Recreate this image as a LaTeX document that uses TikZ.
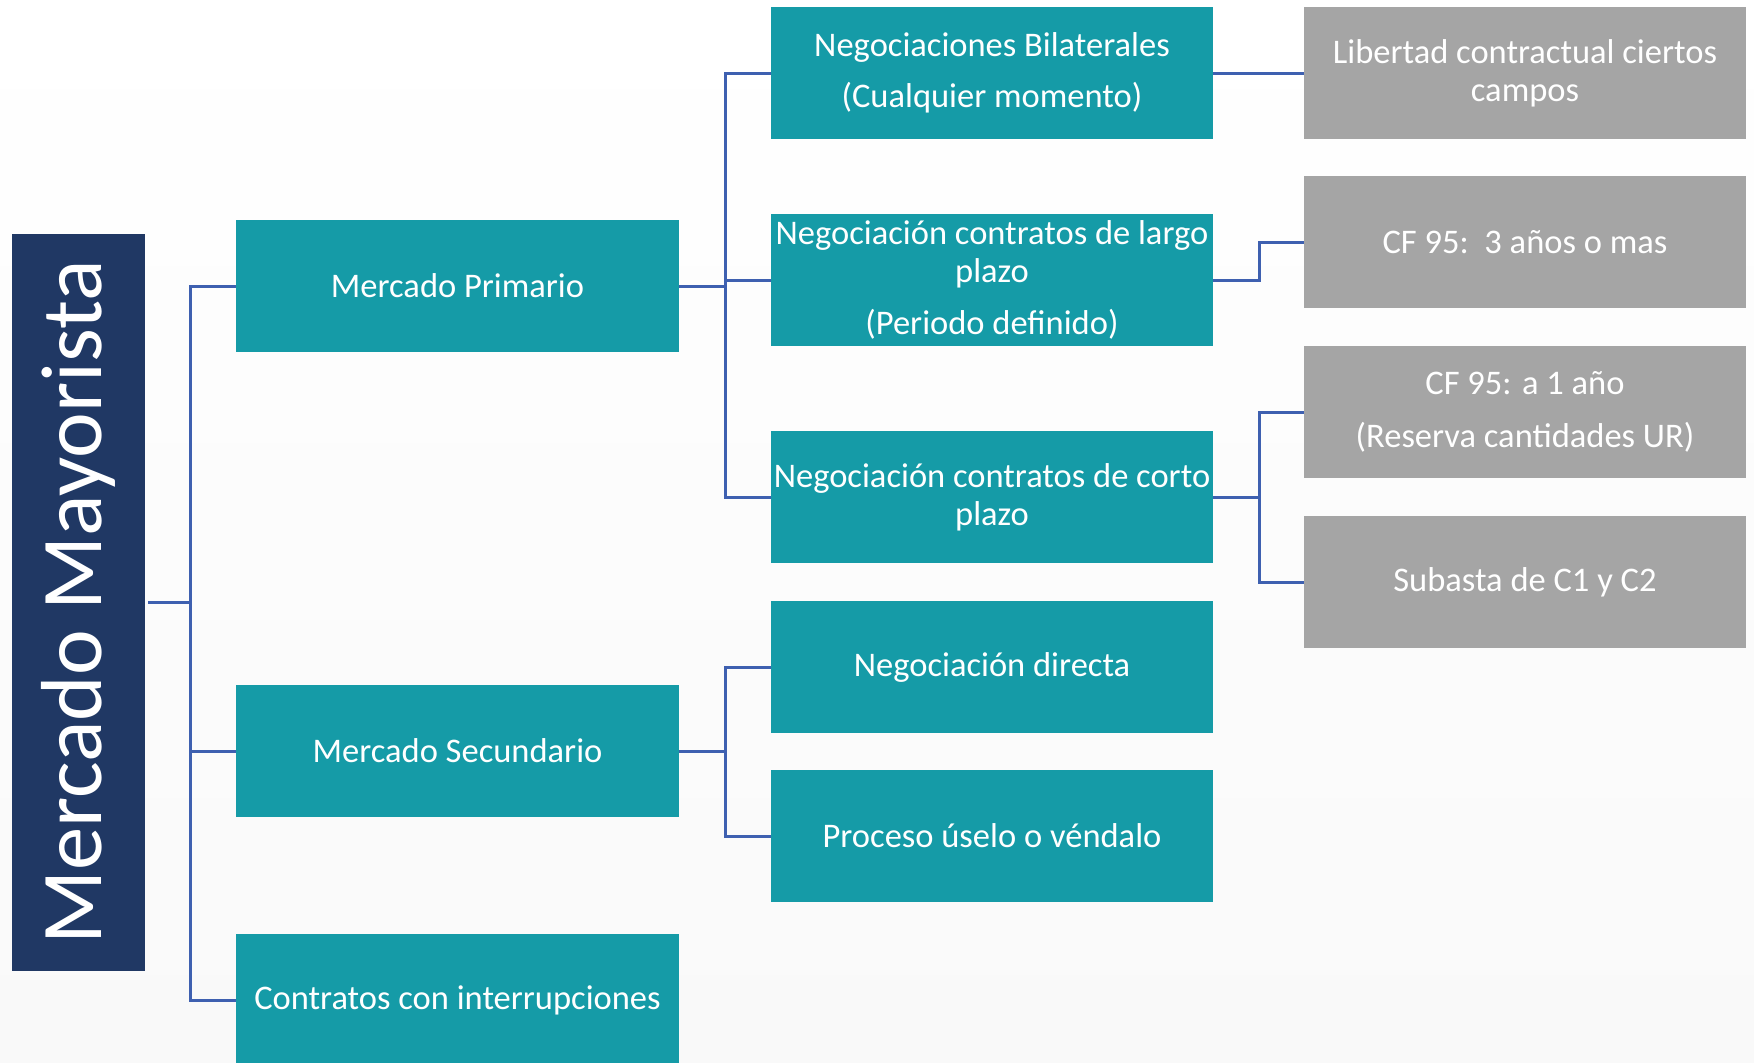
\documentclass[tikz,border=0pt]{standalone}
\usepackage{fontspec}
\setmainfont{Carlito}
\definecolor{tealbox}{RGB}{21,155,167}
\definecolor{navybox}{RGB}{32,56,100}
\definecolor{graybox}{RGB}{165,165,165}
\definecolor{linkblue}{RGB}{62,96,176}
\tikzset{
  boxbase/.style={rectangle, inner sep=0pt, minimum width=443pt, minimum height=132pt, text=white, align=center, font=\fontsize{34.5}{38}\selectfont},
  tealnode/.style={boxbase, fill=tealbox},
  graynode/.style={boxbase, fill=graybox, minimum width=442pt},
  link/.style={draw=linkblue, line width=3pt}
}
\begin{document}
\begin{tikzpicture}[x=1pt,y=-1pt]
\shade[top color=white, bottom color={rgb,255:red,249;green,249;blue,249}] (0,0) rectangle (1754,1063);
\useasboundingbox (0,0) rectangle (1754,1063);
% root
\node[rectangle, inner sep=0pt, fill=navybox, minimum width=133pt, minimum height=737pt] (root) at (78.5,602.5) {};
\node[rotate=90, text=white, inner sep=0pt, font=\fontsize{86.6}{90}\selectfont] (roottxt) at (78.5,602.5) {Mercado Mayorista};
% level 1
\node[tealnode] (prim) at (457.5,286) {Mercado Primario};
\node[tealnode] (sec) at (457.5,751) {Mercado Secundario};
\node[tealnode] (contr) at (457.5,1000) {Contratos con interrupciones};
% level 2
\node[tealnode, minimum width=442pt] (bil) at (992,73) {Negociaciones Bilaterales\\[13.5pt](Cualquier momento)};
\node[tealnode, minimum width=442pt] (largo) at (992,280) {Negociación contratos de largo\\plazo\\[14.5pt](Periodo definido)};
\node[tealnode, minimum width=442pt] (corto) at (992,497) {Negociación contratos de corto\\plazo};
\node[tealnode, minimum width=442pt] (dir) at (992,667) {Negociación directa};
\node[tealnode, minimum width=442pt] (proc) at (992,836) {Proceso úselo o véndalo};
% level 3
\node[graynode] (lib) at (1525,73) {Libertad contractual ciertos\\campos};
\node[graynode] (cf3) at (1525,242) {CF 95:\ \ 3 años o mas};
\node[graynode] (cf1) at (1525,412) {CF 95: a 1 año\\[15pt](Reserva cantidades UR)};
\node[graynode] (sub) at (1525,582) {Subasta de C1 y C2};
% connectors
\draw[link] (root.east) ++(3,0) -- ++(42,0) |- (prim.west);
\draw[link] (root.east) ++(45,0) |- (sec.west);
\draw[link] (root.east) ++(45,0) |- (contr.west);
\draw[link] (prim.east) -- ++(46,0) |- (bil.west);
\draw[link] (prim.east) ++(46,0) |- (largo.west);
\draw[link] (prim.east) ++(46,0) |- (corto.west);
\draw[link] (sec.east) -- ++(46,0) |- (dir.west);
\draw[link] (sec.east) ++(46,0) |- (proc.west);
\draw[link] (bil.east) -- (lib.west);
\draw[link] (largo.east) -- ++(46,0) |- (cf3.west);
\draw[link] (corto.east) -- ++(46,0) |- (cf1.west);
\draw[link] (corto.east) ++(46,0) |- (sub.west);
\end{tikzpicture}
\end{document}
